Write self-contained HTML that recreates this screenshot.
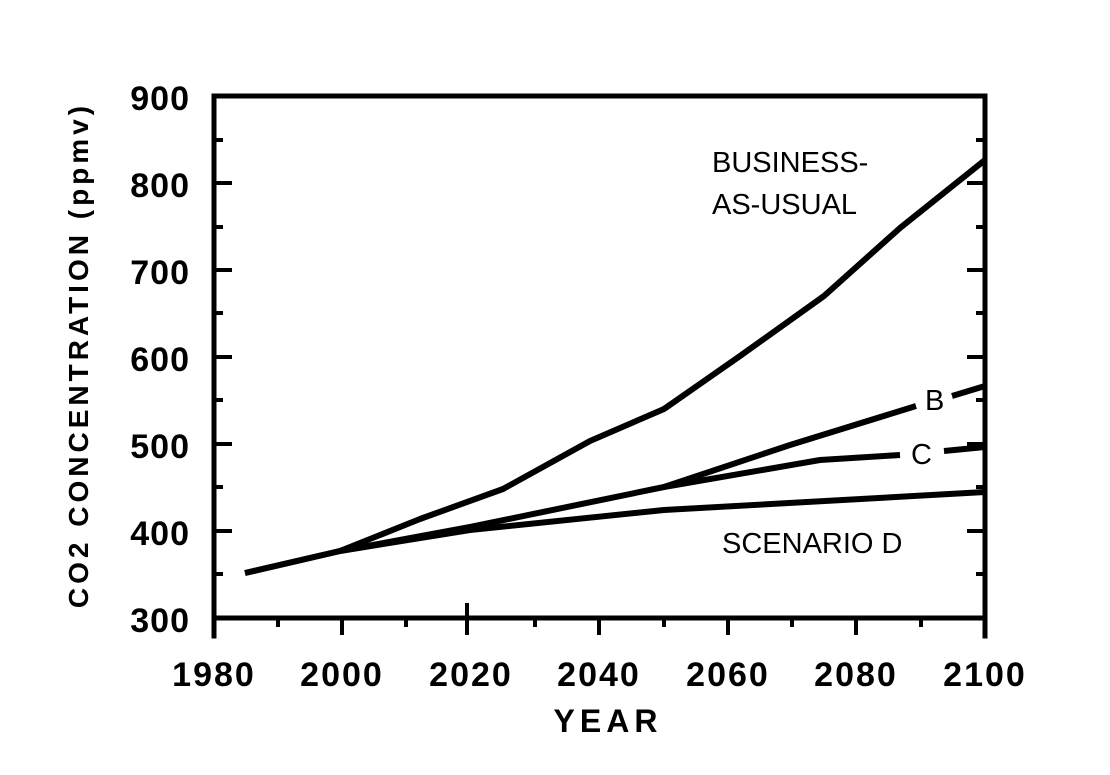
<!DOCTYPE html>
<html><head><meta charset="utf-8"><style>
html,body{margin:0;padding:0;background:#fff;}
svg{display:block;}
text{font-family:"Liberation Sans",sans-serif;fill:#000;}
</style></head><body>
<svg width="1110" height="775" viewBox="0 0 1110 775" xmlns="http://www.w3.org/2000/svg">
<g stroke="#000" stroke-width="5" fill="none" stroke-linecap="square">
<line x1="214" y1="96" x2="985" y2="96"/>
<line x1="214" y1="96" x2="214" y2="636"/>
<line x1="985" y1="96" x2="985" y2="636"/>
<line x1="214" y1="618" x2="985" y2="618"/>
</g>
<g stroke="#000" stroke-width="4">
<line x1="214" y1="183" x2="232" y2="183"/><line x1="214" y1="140" x2="223" y2="140"/>
<line x1="214" y1="270" x2="232" y2="270"/><line x1="214" y1="227" x2="223" y2="227"/>
<line x1="214" y1="357" x2="232" y2="357"/><line x1="214" y1="313" x2="223" y2="313"/>
<line x1="214" y1="444" x2="232" y2="444"/><line x1="214" y1="400" x2="223" y2="400"/>
<line x1="214" y1="531" x2="232" y2="531"/><line x1="214" y1="487" x2="223" y2="487"/>
<line x1="214" y1="574" x2="223" y2="574"/>
<line x1="985" y1="183" x2="967" y2="183"/><line x1="985" y1="140" x2="976" y2="140"/>
<line x1="985" y1="270" x2="967" y2="270"/><line x1="985" y1="227" x2="976" y2="227"/>
<line x1="985" y1="357" x2="967" y2="357"/><line x1="985" y1="313" x2="976" y2="313"/>
<line x1="985" y1="444" x2="967" y2="444"/><line x1="985" y1="400" x2="976" y2="400"/>
<line x1="985" y1="531" x2="967" y2="531"/><line x1="985" y1="487" x2="976" y2="487"/>
<line x1="985" y1="574" x2="976" y2="574"/>
<line x1="278" y1="618" x2="278" y2="627"/><line x1="342" y1="618" x2="342" y2="635"/>
<line x1="406" y1="618" x2="406" y2="627"/><line x1="467" y1="603" x2="467" y2="635"/>
<line x1="535" y1="618" x2="535" y2="627"/><line x1="599" y1="618" x2="599" y2="635"/>
<line x1="664" y1="618" x2="664" y2="627"/><line x1="728" y1="618" x2="728" y2="635"/>
<line x1="792" y1="618" x2="792" y2="627"/><line x1="856" y1="618" x2="856" y2="635"/>
<line x1="921" y1="618" x2="921" y2="627"/>
</g>
<g stroke="#000" stroke-width="6" fill="none" stroke-linejoin="round">
<polyline points="245,573 340,551 420,519 503,489 590,441 664,409 740,356 824,296 900,228 985,160"/>
<polyline points="245,573 340,551 470,527 664,487 790,445 916,406"/>
<line x1="952" y1="396" x2="985" y2="386"/>
<polyline points="664,487 820,460 900,455"/>
<line x1="944" y1="451" x2="985" y2="447"/>
<polyline points="340,551 470,530 664,510 985,492"/>
</g>
<g font-size="34" font-weight="bold" text-anchor="end" letter-spacing="1">
<text x="190" y="110">900</text><text x="190" y="197">800</text><text x="190" y="284">700</text>
<text x="190" y="371">600</text><text x="190" y="458">500</text><text x="190" y="545">400</text>
<text x="190" y="632">300</text>
</g>
<g font-size="34" font-weight="bold" text-anchor="middle" letter-spacing="2">
<text x="214" y="686">1980</text><text x="342" y="686">2000</text><text x="471" y="686">2020</text>
<text x="599" y="686">2040</text><text x="728" y="686">2060</text><text x="856" y="686">2080</text>
<text x="985" y="686">2100</text>
<text x="608" y="732" letter-spacing="5" font-size="32">YEAR</text>
<text transform="translate(88,355) rotate(-90)" font-size="28" letter-spacing="4">CO2 CONCENTRATION (ppmv)</text>
</g>
<g font-size="29">
<text x="712" y="172">BUSINESS-</text>
<text x="712" y="214">AS-USUAL</text>
<text x="925" y="410">B</text>
<text x="911" y="464">C</text>
<text x="722" y="553">SCENARIO D</text>
</g>
</svg>
</body></html>
